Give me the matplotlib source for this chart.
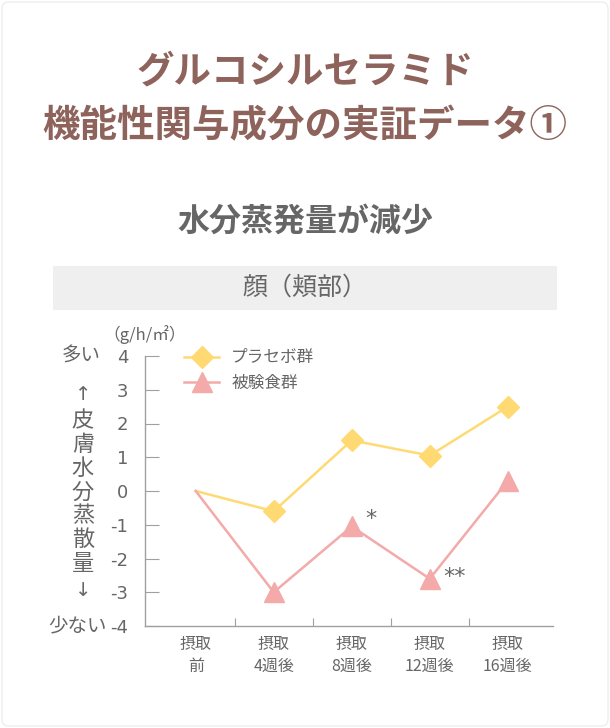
import matplotlib
matplotlib.use("Agg")
import matplotlib.pyplot as plt
from matplotlib.patches import Rectangle, FancyBboxPatch

plt.rcParams['font.family'] = ['Noto Sans CJK JP', 'DejaVu Sans']

# data
categories = ['摂取\n前', '摂取\n4週後', '摂取\n8週後', '摂取\n12週後', '摂取\n16週後']
placebo = [0, -0.6, 1.5, 1.05, 2.5]
test_group = [0, -3.0, -1.05, -2.6, 0.3]
yticks = [4, 3, 2, 1, 0, -1, -2, -3, -4]
marks = {2: '*', 3: '**'}

yellow = '#ffda73'
pink = '#f3aaa9'
grey_txt = '#666666'
axis_col = '#a0a0a0'

fig = plt.figure(figsize=(6.1, 7.28), dpi=100)
W, H = 610, 728

# faint frame
fig.patches.append(FancyBboxPatch((2 / W, 2 / H), 1 - 4 / W, 1 - 4 / H,
                                  boxstyle="round,pad=0,rounding_size=0.01",
                                  transform=fig.transFigure, fc='none', ec='#eeeeee',
                                  lw=1, zorder=-1))

fig.text(0.5, 1 - 71 / H, 'グルコシルセラミド', ha='center', va='center',
         fontsize=27, fontweight='bold', color='#8e635c')
fig.text(0.5, 1 - 126 / H, '機能性関与成分の実証データ①', ha='center', va='center',
         fontsize=27, fontweight='bold', color='#8e635c')
fig.text(0.5, 1 - 222 / H, '水分蒸発量が減少', ha='center', va='center',
         fontsize=23, fontweight='bold', color=grey_txt)

fig.patches.append(Rectangle((53 / W, 1 - 310 / H), 504 / W, 44 / H,
                             transform=fig.transFigure, fc='#efefef', ec='none', zorder=-1))
fig.text(0.5, 1 - 288 / H, '顔（頬部）', ha='center', va='center',
         fontsize=18, color=grey_txt)

ax = fig.add_axes([145 / W, 1 - 626 / H, (553 - 145) / W, (626 - 356) / H])
ax.patch.set_alpha(0)
x = list(range(len(categories)))
shown = list(range(1, len(categories)))
ax.plot(x, placebo, color=yellow, lw=1.8, marker='D', ms=11, mec=yellow, mfc=yellow,
        markevery=shown, label='プラセボ群', zorder=3, clip_on=False)
ax.plot(x, test_group, color=pink, lw=1.8, marker='^', ms=14, mec=pink, mfc=pink,
        markevery=shown, label='被験食群', zorder=3, clip_on=False)
for i, m in marks.items():
    ax.annotate(m, (x[i], test_group[i]), xytext=(10, 5 if len(m) == 1 else 1),
                textcoords='offset points', fontsize=16, color=grey_txt,
                va='center', ha='left', family=['DejaVu Sans'])

ax.set_ylim(-4, 4)
ax.set_xlim(-0.65, 4.58)
ax.set_yticks(yticks)
ax.set_yticklabels([str(v) for v in yticks], fontsize=13, color=grey_txt,
                   family=['DejaVu Sans'])
ax.set_xticks([i + 0.5 for i in range(4)])
ax.set_xticklabels([])
ax.set_xticks(x, minor=True)
ax.set_xticklabels(categories, minor=True, fontsize=11.5, color=grey_txt, linespacing=1.4)
ax.tick_params(axis='x', which='minor', length=0, pad=7)
ax.tick_params(axis='x', which='major', direction='in', length=6, color=axis_col)
ax.tick_params(axis='y', direction='in', length=10, color=axis_col, pad=12)
for s in ['top', 'right']:
    ax.spines[s].set_visible(False)
for s in ['left', 'bottom']:
    ax.spines[s].set_color(axis_col)
    ax.spines[s].set_linewidth(1)

leg = ax.legend(loc='upper left', bbox_to_anchor=(0.06, 1.08), frameon=False,
                fontsize=12, handlelength=2.1, handletextpad=0.7, labelspacing=0.5)
for t in leg.get_texts():
    t.set_color(grey_txt)

# left side labels
fig.text(145 / W, 1 - 335 / H, '（g/h/㎡）', ha='center', va='center', fontsize=12, color=grey_txt)
fig.text(81 / W, 1 - 356 / H, '多い', ha='center', va='center', fontsize=14, color=grey_txt)
fig.text(107 / W, 1 - 626 / H, '少ない', ha='right', va='center', fontsize=14, color=grey_txt)
fig.text(83 / W, 1 - 394 / H, '↑', ha='center', va='center', fontsize=14, color=grey_txt,
         family=['DejaVu Sans'])
fig.text(83 / W, 1 - 590 / H, '↓', ha='center', va='center', fontsize=14, color=grey_txt,
         family=['DejaVu Sans'])
fig.text(83 / W, 1 - 492 / H, '\n'.join('皮膚水分蒸散量'), ha='center', va='center',
         fontsize=16, color=grey_txt, linespacing=1.05)

fig.savefig('out.png', dpi=100)
